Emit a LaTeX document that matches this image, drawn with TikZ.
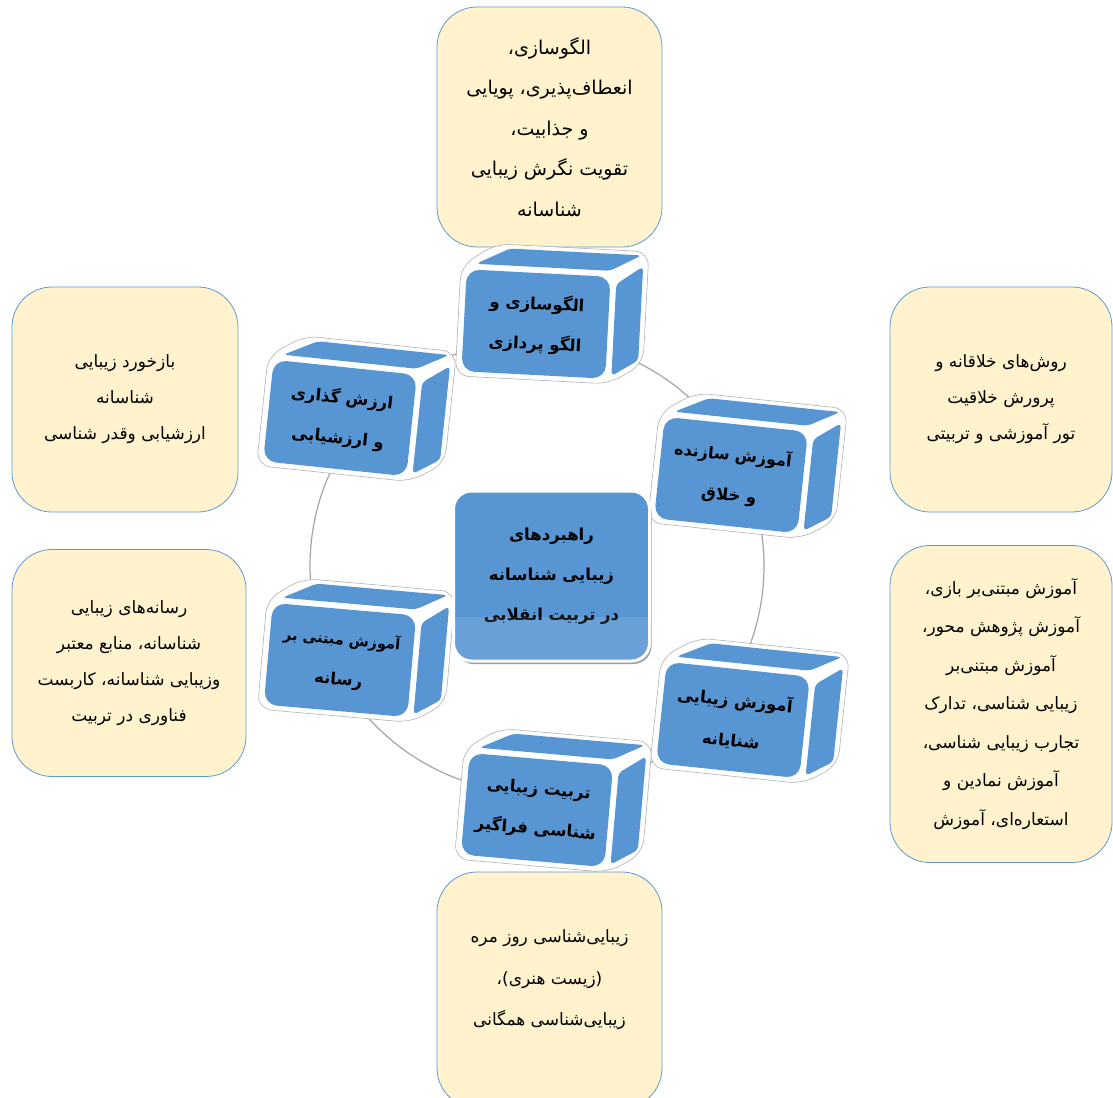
\documentclass[tikz,border=0pt]{standalone}
\usepackage{fontspec}
\newfontfamily\farsi[Script=Arabic]{DejaVu Sans}
\TeXXeTstate=1
\usetikzlibrary{shadows}

\definecolor{cream}{HTML}{FFF2CC}
\definecolor{edgeblue}{HTML}{5B9BD5}
\definecolor{cubeblue}{HTML}{5796D3}
\definecolor{ringgray}{HTML}{A5A5A5}

\newcommand{\fa}[1]{\beginR #1\endR}

% one 3d block: name, front centre, tilt, text
\newcommand{\cubebox}[4]{%
  \begin{scope}[shift={#2},rotate=#3]
  \draw[cubeedge] (-78,56) -- (-78,-54) -- (-44,-78) -- (109,-78) -- (109,34) -- (76,56) -- cycle;
  \fill[cubeblue, rounded corners=4] (-63,-57) -- (71,-57) -- (102,-74) -- (-30,-74) -- cycle;
  \fill[cubeblue, rounded corners=4] (78,-44) -- (104,-63) -- (104,31) -- (78,48) -- cycle;
  \fill[cubeblue, rounded corners=13] (-72,-51) rectangle (72,51);
  \node (#1) [cubetext, transform shape] at (0,0) {#4};
  \end{scope}}

\tikzset{
  notebox/.style={draw=edgeblue, fill=cream, line width=0.8pt, rounded corners=40pt,
    align=center, inner sep=0pt, font=\farsi\fontsize{17}{36}\selectfont},
  notetext/.style={align=center, inner sep=0pt, font=\farsi\fontsize{17}{41.5}\selectfont},
  cubeedge/.style={draw=gray!60, fill=white, line width=0.6pt, rounded corners=14},
  cubetext/.style={align=center, inner sep=0pt, font=\farsi\bfseries\fontsize{16.5}{40}\selectfont},
  hubbox/.style={fill=cubeblue, draw=white, line width=3pt, rounded corners=18pt,
    minimum width=196pt, minimum height=170pt, align=center,
    font=\farsi\bfseries\fontsize{16.5}{40}\selectfont,
    drop shadow={shadow xshift=2pt, shadow yshift=-3pt, fill=gray!75, opacity=1}}
}

\begin{document}
\begin{tikzpicture}[x=1pt,y=-1pt]
\useasboundingbox (0,0) rectangle (1113,1097);
\clip (0,0) rectangle (1113,1097);
\fill[white] (0,0) rectangle (1113,1097);

% outer notes
\node (pattern) [notebox, minimum width=225pt, minimum height=240pt,
  font=\farsi\fontsize{19}{40.5}\selectfont] at (549.5,127) {%
  \fa{الگوسازی،}\\ \fa{انعطاف‌پذیری، پویایی}\\ \fa{و جذابیت،}\\ \fa{تقویت نگرش زیبایی}\\ \fa{شناسانه}};
\node (feedback) [notebox, minimum width=226pt, minimum height=225pt] at (125,399.5) {%
  \fa{بازخورد زیبایی}\\ \fa{شناسانه}\\ \fa{ارزشیابی وقدر شناسی}};
\node (creative) [notebox, minimum width=222pt, minimum height=225pt] at (1001,399.5) {%
  \fa{روش‌های خلاقانه و}\\ \fa{پرورش خلاقیت}\\ \fa{تور آموزشی و تربیتی}};
\node (media) [notebox, minimum width=234pt, minimum height=227pt] at (129,663) {%
  \fa{رسانه‌های زیبایی}\\ \fa{شناسانه، منابع معتبر}\\ \fa{وزیبایی شناسانه، کاربست}\\ \fa{فناوری در تربیت}};
\node (methods) [notebox, minimum width=222pt, minimum height=317pt,
  font=\farsi\fontsize{17}{38.5}\selectfont] at (1001,704) {%
  \fa{آموزش مبتنی‌بر بازی،}\\ \fa{آموزش پژوهش محور،}\\ \fa{آموزش مبتنی‌بر}\\ \fa{زیبایی شناسی، تدارک}\\
  \fa{تجارب زیبایی شناسی،}\\ \fa{آموزش نمادین و}\\ \fa{استعاره‌ای، آموزش}};
\node (everyday) [notebox, minimum width=225pt, minimum height=236pt] at (549.5,990) {};
\node (everydaytext) [notetext] at (549.5,980) {%
  \fa{زیبایی‌شناسی روز مره}\\ \fa{(زیست هنری)،}\\ \fa{زیبایی‌شناسی همگانی}};

% ring behind the blocks
\draw[ringgray, line width=1.2pt] (537,566) circle (227);

\cubebox{modeling}{(536,324)}{-3}{\fa{الگوسازی و}\\ \fa{الگو پردازی}}
\cubebox{valuing}{(340,418)}{-6}{\fa{ارزش گذاری}\\ \fa{و ارزشیابی}}
\cubebox{building}{(731,475)}{-6}{\fontsize{16}{42}\selectfont\fa{آموزش سازنده}\\ \fa{و خلاق}}
\cubebox{mediabased}{(340,660)}{-5}{\fontsize{14.5}{36}\selectfont\fa{آموزش مبتنی بر}\\ \fa{رسانه}}
\cubebox{aesthetic}{(733,720)}{-6}{\fa{آموزش زیبایی}\\ \fa{شنایانه}}
\cubebox{inclusive}{(537,810)}{-5}{\fa{تربیت زیبایی}\\ \fa{شناسی فراگیر}}

% centre
\node (hub) [hubbox] at (551.5,576) {\fa{راهبردهای}\\ \fa{زیبایی شناسانه}\\ \fa{در تربیت انقلابی}};
\begin{scope}
\clip[rounded corners=17pt] (hub.south west) rectangle (hub.north east);
\fill[white, opacity=0.1] (hub.south west) rectangle ([yshift=46pt]hub.south east);
\end{scope}
\end{tikzpicture}
\end{document}
